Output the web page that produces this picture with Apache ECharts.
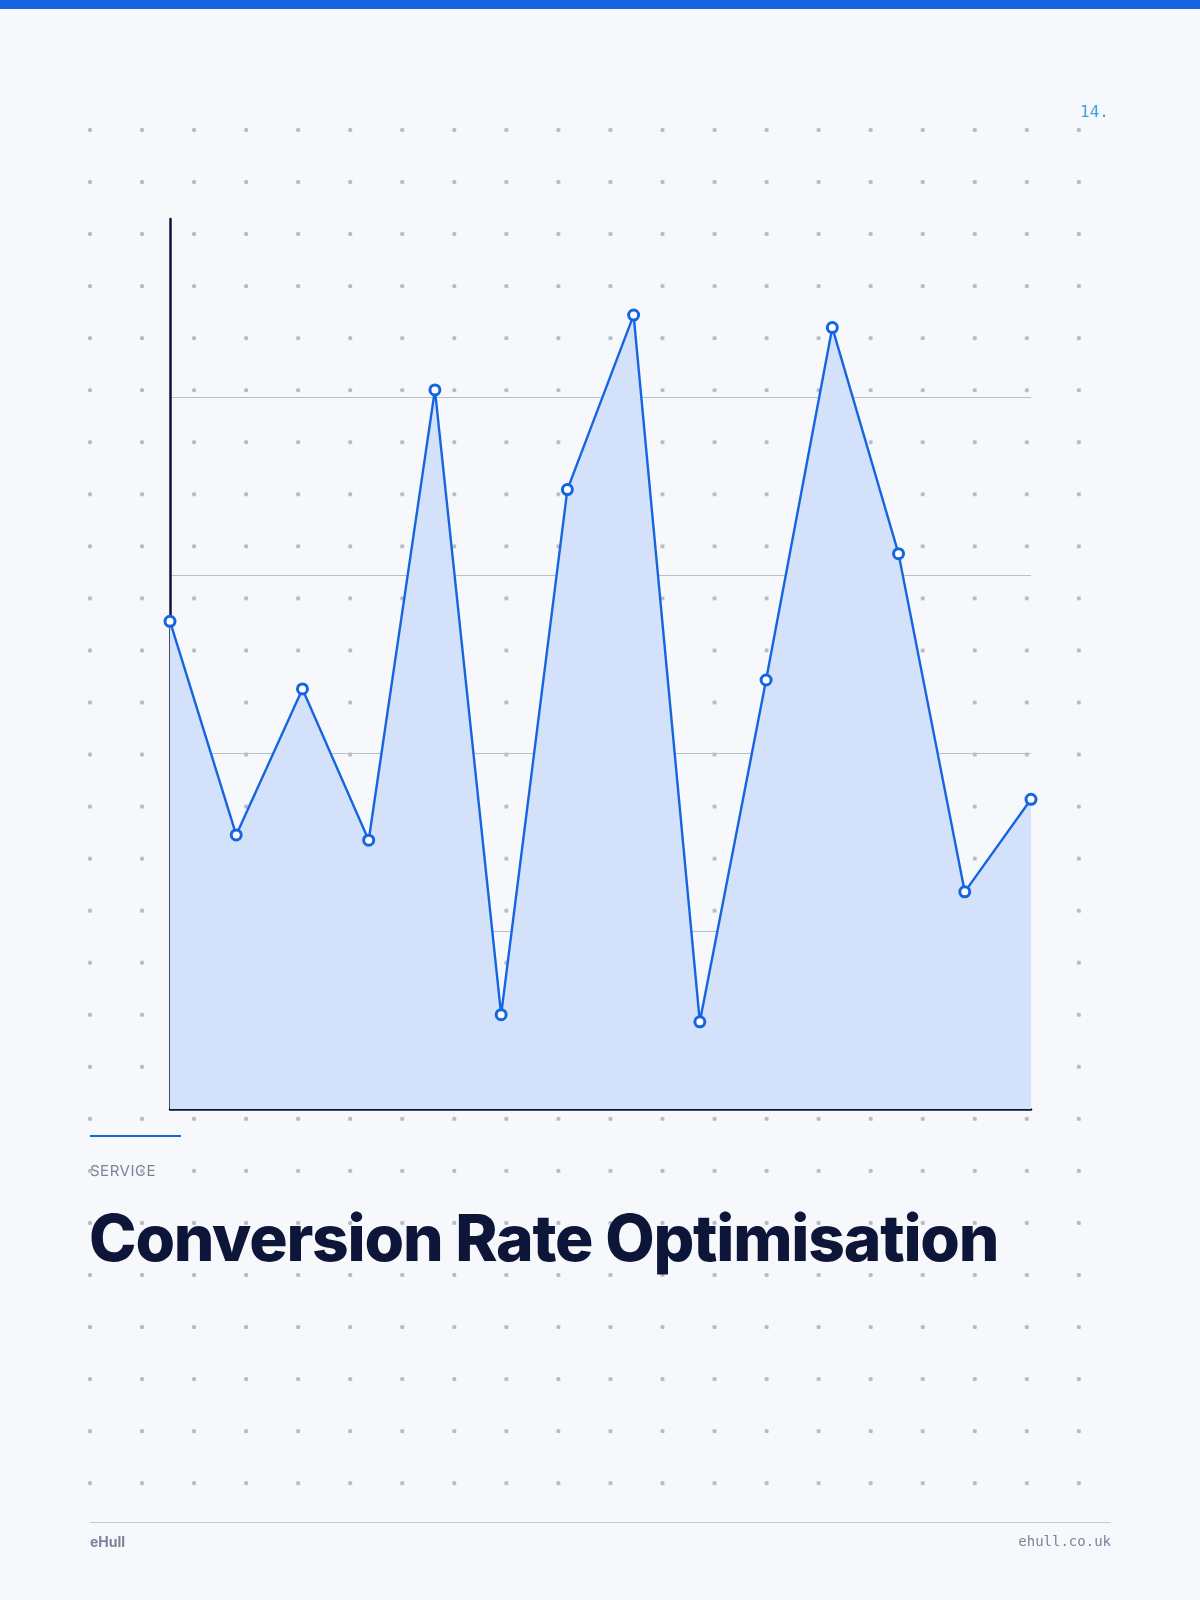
<!DOCTYPE html>
<html><head><meta charset="utf-8">
<script src="https://cdn.jsdelivr.net/npm/echarts@6/dist/echarts.min.js"></script>
<style>
html,body{margin:0;padding:0;width:1200px;height:1600px;background:#f6f8fb;overflow:hidden;font-family:Inter,"Noto Sans",sans-serif;}
#bar{position:absolute;left:0;top:0;width:1200px;height:9px;background:#1565e0;}
#dots{position:absolute;left:87px;top:127px;width:1000px;height:1360px;
background-image:radial-gradient(circle at 3px 3px,#b5bac4 1.9px,transparent 2.4px);background-size:52.05px 52.05px;}
#chart{position:absolute;left:0;top:0;width:1200px;height:1600px;}
.t{position:absolute;white-space:nowrap;}
</style></head><body>
<div id="bar"></div><div id="dots"></div><div id="chart"></div>
<div class="t" style="right:91px;top:102px;color:#3aa0e8;font:16px 'DejaVu Sans Mono',monospace;">14.</div>
<div style="position:absolute;left:90px;top:1135px;width:91px;height:2px;background:#1565e0;"></div>
<div class="t" style="left:90px;top:1161px;color:#7a8499;font-size:15px;letter-spacing:0.5px;">SERVICE</div>
<div class="t" style="left:89px;top:1198px;color:#0d1638;font-size:64px;font-weight:800;letter-spacing:-1.2px;line-height:80px;">Conversion Rate Optimisation</div>
<div style="position:absolute;left:90px;top:1522px;width:1021px;height:1px;background:#c3c8d2;"></div>
<div class="t" style="left:90px;top:1533px;color:#7a8499;font-size:14px;font-weight:700;">eHull</div>
<div class="t" style="right:89px;top:1533px;color:#7a8499;font:14px 'DejaVu Sans Mono',monospace;">ehull.co.uk</div>
<script>
const categories=['1','2','3','4','5','6','7','8','9','10','11','12','13','14'];
const values=[2.74,1.54,2.36,1.51,4.04,0.53,3.48,4.46,0.49,2.41,4.39,3.12,1.22,1.74];
const yTicks=[0,1,2,3,4,5];
const c=echarts.init(document.getElementById('chart'));
c.setOption({
 animation:false,
 grid:{left:170,right:169,top:219,bottom:491},
 xAxis:{type:'category',data:categories,boundaryGap:false,z:5,
  axisLine:{lineStyle:{color:'#0d1638',width:2.5}},axisTick:{show:false},axisLabel:{show:false}},
 yAxis:{type:'value',min:yTicks[0],max:yTicks[yTicks.length-1],interval:1,z:5,
  axisLine:{show:true,lineStyle:{color:'#0d1638',width:2.5}},axisLabel:{show:false},axisTick:{show:false},
  splitLine:{show:true,lineStyle:{color:['transparent','#b8bfcc','#b8bfcc','#b8bfcc','#b8bfcc','transparent'],width:1}}},
 series:[{type:'line',data:values,symbol:'circle',symbolSize:10,z:6,
  lineStyle:{color:'#1565e0',width:2.4},
  itemStyle:{color:'#ffffff',borderColor:'#1565e0',borderWidth:3},
  areaStyle:{color:'#d3e2fa',opacity:1}}]
});
</script></body></html>
